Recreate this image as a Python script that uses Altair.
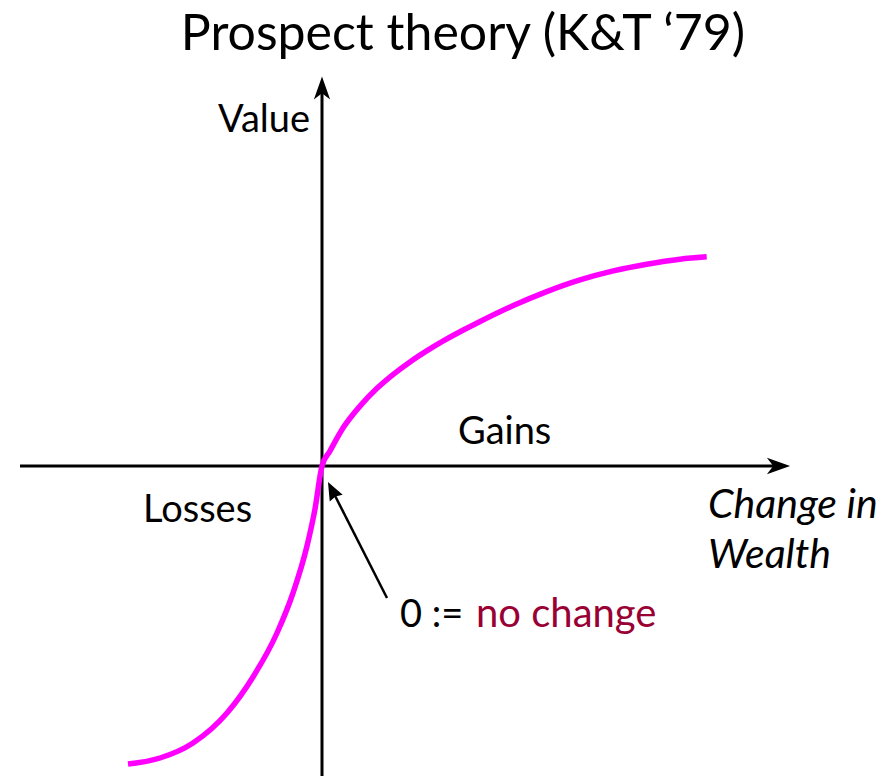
import altair as alt
import pandas as pd

# ---- data (units: origin = reference point, 1 unit ~ 100 px) ----
gain_x = [0.0, 0.08, 0.213, 0.38, 0.547, 0.713, 0.88, 1.047, 1.213, 1.38, 1.547, 1.913, 2.247, 2.58, 2.913, 3.247, 3.58, 3.847]
gain_y = [0.0, 0.15, 0.384, 0.599, 0.774, 0.917, 1.041, 1.151, 1.251, 1.343, 1.428, 1.604, 1.744, 1.861, 1.951, 2.018, 2.068, 2.092]
loss_x = [0.0, -0.07, -0.15, -0.29, -0.45, -0.69, -0.95, -1.29, -1.62, -1.94]
loss_y = [0.0, -0.43, -0.80, -1.27, -1.67, -2.11, -2.47, -2.77, -2.92, -2.98]

# axes extents
x_axis_from, x_axis_to, x_arrow_center = -3.02, 4.58, 4.565
y_axis_from, y_axis_to, y_arrow_center = -3.3, 3.78, 3.78

# annotation arrow (from label towards origin)
ann_start = (0.65, -1.32)
ann_head = (0.101, -0.24)

title_text = "Prospect theory (K&T \u201879)"
labels = ["Value", "Gains", "Losses"]
labels_x = [-1.04, 1.36, -1.79]
labels_y = [3.34, 0.22, -0.56]
italic_labels = ["Change in", "Wealth"]
italic_x = [3.86, 3.86]
italic_y = [-0.52, -1.02]

X_DOMAIN = [-3.14, 5.61]
Y_DOMAIN = [-3.10, 4.58]
FONT = "Lato"

xs = alt.Scale(domain=X_DOMAIN, nice=False, zero=False)
ys = alt.Scale(domain=Y_DOMAIN, nice=False, zero=False)

def X(f="x"):
    return alt.X(f, type="quantitative", scale=xs, axis=None)

def Y(f="y"):
    return alt.Y(f, type="quantitative", scale=ys, axis=None)

# curve
loss_df = pd.DataFrame({"x": loss_x[::-1], "y": loss_y[::-1]})
gain_df = pd.DataFrame({"x": gain_x, "y": gain_y})
curve_df = pd.concat([loss_df, gain_df.iloc[1:]], ignore_index=True)
curve_df["order"] = range(len(curve_df))
curve = alt.Chart(curve_df).mark_line(color="#FF00FF", strokeWidth=5.5, interpolate="monotone").encode(
    x=X(), y=Y(), order="order:Q")

# axes lines
axes_df = pd.DataFrame({
    "x": [x_axis_from, 0.0], "x2": [x_axis_to, 0.0],
    "y": [0.0, y_axis_from], "y2": [0.0, y_axis_to]})
axes = alt.Chart(axes_df).mark_rule(color="black", strokeWidth=3).encode(
    x=X(), x2="x2", y=Y(), y2="y2")

arrow_path = "M1,0 L-1,-0.7 L-0.45,0 L-1,0.7 Z"
heads_df = pd.DataFrame({"x": [x_arrow_center, 0.0], "y": [0.0, y_arrow_center], "angle": [0, 270]})
heads = alt.Chart(heads_df).mark_point(shape=arrow_path, filled=True, color="black", size=540, opacity=1).encode(
    x=X(), y=Y(), angle=alt.Angle("angle:Q", scale=None))

# annotation arrow
ann_df = pd.DataFrame({"x": [ann_start[0]], "y": [ann_start[1]], "x2": [ann_head[0]], "y2": [ann_head[1]]})
ann_line = alt.Chart(ann_df).mark_rule(color="black", strokeWidth=2.5).encode(
    x=X(), y=Y(), x2="x2", y2="y2")
ann_head_df = pd.DataFrame({"x": [ann_head[0]], "y": [ann_head[1]], "angle": [243]})
ann_tip = alt.Chart(ann_head_df).mark_point(shape="M1,0 L-1,-0.8 L-0.8,0 L-1,0.8 Z", filled=True, color="black",
                                             size=330, opacity=1).encode(
    x=X(), y=Y(), angle=alt.Angle("angle:Q", scale=None))

# texts
title_df = pd.DataFrame({"t": [title_text], "x": [1.41], "y": [4.16]})
title = alt.Chart(title_df).mark_text(font=FONT, fontSize=50, align="center", baseline="alphabetic", color="black").encode(
    x=X(), y=Y(), text="t:N")

lab_df = pd.DataFrame({"t": labels, "x": labels_x, "y": labels_y})
labs = alt.Chart(lab_df).mark_text(font=FONT, fontSize=38, align="left", baseline="alphabetic", color="black").encode(
    x=X(), y=Y(), text="t:N")

it_df = pd.DataFrame({"t": italic_labels, "x": italic_x, "y": italic_y})
its = alt.Chart(it_df).mark_text(font=FONT, fontSize=41, fontStyle="italic", align="left", baseline="alphabetic",
                                 color="black").encode(x=X(), y=Y(), text="t:N")

zero_df = pd.DataFrame({"t": ["0 :="], "x": [0.78], "y": [-1.61]})
zero = alt.Chart(zero_df).mark_text(font=FONT, fontSize=38, align="left", baseline="alphabetic", color="black").encode(
    x=X(), y=Y(), text="t:N")
nc_df = pd.DataFrame({"t": ["no change"], "x": [1.54], "y": [-1.61]})
nc = alt.Chart(nc_df).mark_text(font=FONT, fontSize=40, align="left", baseline="alphabetic", color="#990033").encode(
    x=X(), y=Y(), text="t:N")

chart = alt.layer(axes, heads, ann_line, ann_tip, curve, title, labs, its, zero, nc).properties(
    width=875, height=768, padding=0, autosize=alt.AutoSizeParams(type="none")
).configure_view(stroke=None)

chart.save("out.html", embed_options={"renderer": "svg", "actions": False})
